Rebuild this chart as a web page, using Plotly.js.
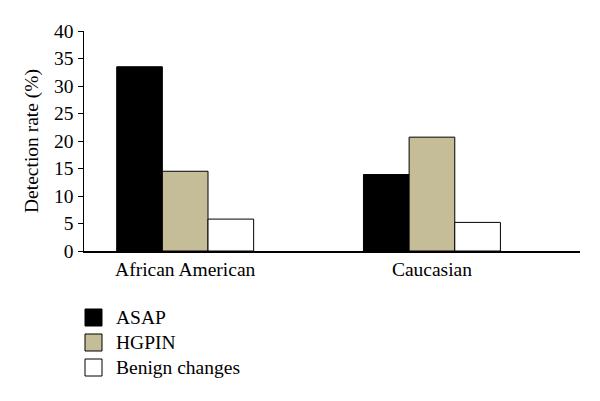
<!DOCTYPE html>
<html>
<head>
<meta charset="utf-8">
<script src="https://cdn.plot.ly/plotly-3.0.1.min.js"></script>
<style>html,body{margin:0;padding:0;background:#fff;}#chart{width:600px;height:401px;}</style>
</head>
<body>
<div id="chart"></div>
<script>
const categories = ["African American", "Caucasian"];
const seriesNames = ["ASAP", "HGPIN", "Benign changes"];
const asap = [33.5, 13.9];
const hgpin = [14.5, 20.7];
const benign = [5.8, 5.2];
const yTicks = [0, 5, 10, 15, 20, 25, 30, 35, 40];

const colors = ["#000000", "#c4bd97", "#ffffff"];
const values = [asap, hgpin, benign];
const font = {family: "Liberation Serif, Times New Roman, serif", size: 19.5, color: "#000"};

const M = {l: 84, r: 20, t: 31, b: 150};
const W = 600, H = 401;
const pw = W - M.l - M.r, ph = H - M.t - M.b;
const px2x = p => (p - M.l) / pw;
const py2y = p => (H - M.b - p) / ph;

const data = values.map((v, i) => ({
  type: "bar",
  name: seriesNames[i],
  x: categories,
  y: v,
  showlegend: false,
  marker: {color: colors[i], line: {color: "#000", width: 1}}
}));

// custom legend (squares + real text)
const legTop = 309, legStep = 25, sq = 17;
const shapes = [], annotations = [];
seriesNames.forEach((n, i) => {
  const top = legTop + i * legStep;
  shapes.push({type: "rect", xref: "paper", yref: "paper",
    x0: px2x(85), x1: px2x(85 + sq), y0: py2y(top), y1: py2y(top + sq),
    fillcolor: colors[i], line: {color: "#000", width: 1}});
  annotations.push({xref: "paper", yref: "paper", x: px2x(114), y: py2y(top + sq / 2),
    xanchor: "left", yanchor: "middle", text: n, showarrow: false, font: font});
});

const layout = {
  width: W, height: H,
  margin: {l: M.l, r: M.r, t: M.t, b: M.b, autoexpand: false},
  paper_bgcolor: "#fff", plot_bgcolor: "#fff",
  font: font,
  barmode: "group",
  bargap: 0.445,
  bargroupgap: 0,
  showlegend: false,
  shapes: shapes,
  annotations: annotations,
  xaxis: {range: [-0.41, 1.6], showline: true, linecolor: "#000", linewidth: 1.5,
          ticks: "", showgrid: false, zeroline: false, tickfont: font, ticklen: 0},
  yaxis: {range: [0, 40], tickvals: yTicks, ticktext: yTicks.map(String), showline: true,
          linecolor: "#000", linewidth: 1.5, ticks: "outside", ticklen: 5, tickcolor: "#000",
          showgrid: false, zeroline: false, tickfont: font,
          title: {text: "Detection rate (%)", font: font, standoff: 10}}
};

Plotly.newPlot("chart", data, layout, {displayModeBar: false, staticPlot: true});
</script>
</body>
</html>
